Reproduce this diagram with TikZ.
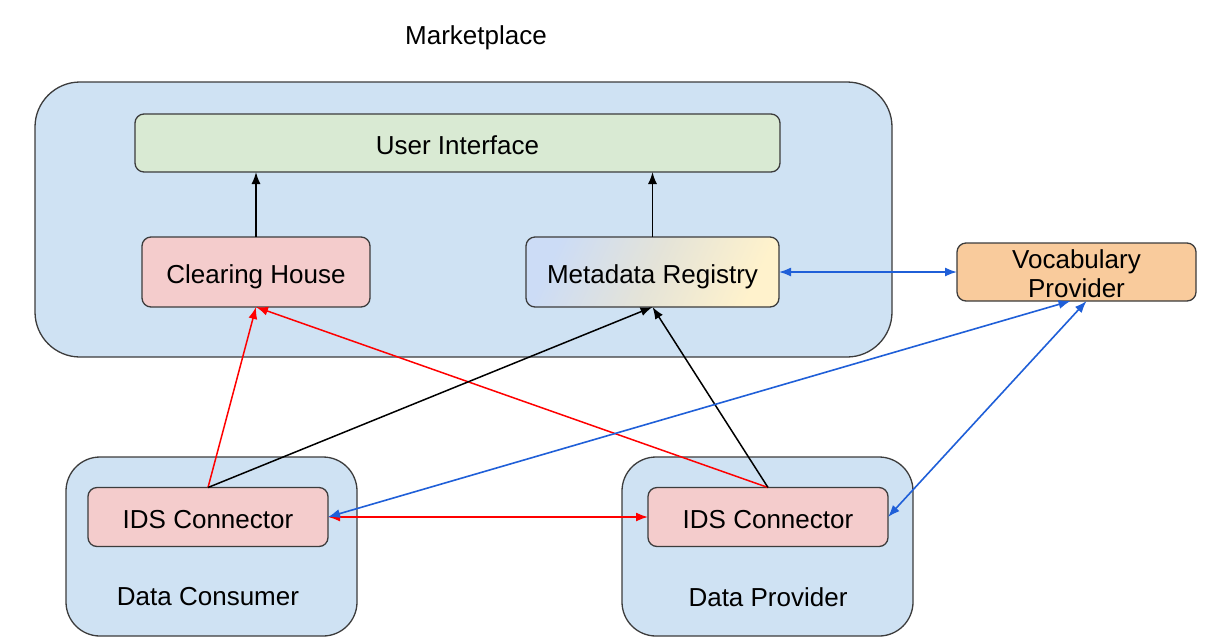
\documentclass[tikz,border=0pt]{standalone}
\usepackage{fontspec}
\setmainfont{Liberation Sans}
\usepackage{tikz}
\usetikzlibrary{arrows.meta}

\definecolor{mpblue}{HTML}{CFE2F3}
\definecolor{uigreen}{HTML}{D9EAD3}
\definecolor{chpink}{HTML}{F4CCCC}
\definecolor{vocorange}{HTML}{F9CB9C}
\definecolor{mdblue}{HTML}{CCDCF6}
\definecolor{mdcream}{HTML}{FFF2CC}
\definecolor{edgegrey}{HTML}{3C3C3C}
\definecolor{linkblue}{HTML}{1F5FD8}

\begin{document}
\begin{tikzpicture}[x=1pt,y=-1pt,
    font=\fontsize{26}{29}\selectfont,
    group/.style={draw=edgegrey, line width=1.3pt, fill=mpblue, inner sep=0pt, outer sep=0pt},
    part/.style={draw=edgegrey, line width=1.3pt, rounded corners=9pt, inner sep=0pt, outer sep=0pt,
        align=center, text height=23pt, text depth=1pt},
    link/.style={line width=1.5pt, -{Latex[length=12pt,width=9pt]}},
    both/.style={line width=1.6pt, {Latex[length=12pt,width=9pt]}-{Latex[length=12pt,width=9pt]}}]
        \useasboundingbox (0,0) rectangle (1217,638);
        \fill[white] (0,0) rectangle (1217,638);

        % the three big boxes
        \node [group, rounded corners=45pt, minimum width=857pt, minimum height=275pt] (market) at (463.5,219.5) {};
        \node [group, rounded corners=34pt, minimum width=291pt, minimum height=179pt] (consumer) at (211.5,546.5) {};
        \node [group, rounded corners=34pt, minimum width=291pt, minimum height=179pt] (provider) at (767.5,546.5) {};
        \node (mptitle) at (476,37.5) {Marketplace};
        \node (dctitle) at (208,597) {Data Consumer};
        \node (dptitle) at (768,597) {Data Provider};

        % components
        \node [part, fill=uigreen, minimum width=645pt, minimum height=58pt] (ui) at (457.5,143) {User Interface};
        \node [part, fill=chpink, minimum width=228pt, minimum height=70pt] (clearing) at (256,272) {Clearing House};
        \node [part, top color=mdblue, bottom color=mdcream, middle color=black!4!mdcream!60!mdblue, shading angle=65,
            minimum width=253pt, minimum height=70pt] (registry) at (652.5,272) {Metadata Registry};
        \node [part, fill=vocorange, minimum width=239pt, minimum height=58pt, text height=52pt, text depth=1pt] (vocab) at (1076.5,272) {Vocabulary\\Provider};
        \node [part, fill=chpink, minimum width=240pt, minimum height=59pt] (lconn) at (208,517) {IDS Connector};
        \node [part, fill=chpink, minimum width=240pt, minimum height=59pt] (rconn) at (768,517) {IDS Connector};

        \draw [link, black] (clearing) -- (clearing |- ui.south);
        \draw [link, black] (registry) -- (registry |- ui.south);
        \draw [both, linkblue] (registry.east) -- (vocab.west);

        \draw [link, red] (lconn.north) -- (clearing.south);
        \draw [link, red] (rconn.north) -- (clearing.south);
        \draw [link, black] (lconn.north) -- (registry.south);
        \draw [link, black] (rconn.north) -- (registry.south);
        \draw [both, red] (lconn.east) -- (rconn.west);
        \draw [both, linkblue] ([xshift=-6pt]vocab.south) -- (lconn.east);
        \draw [both, linkblue] ([xshift=10pt]vocab.south) -- (rconn.east);
    \end{tikzpicture}
\end{document}
